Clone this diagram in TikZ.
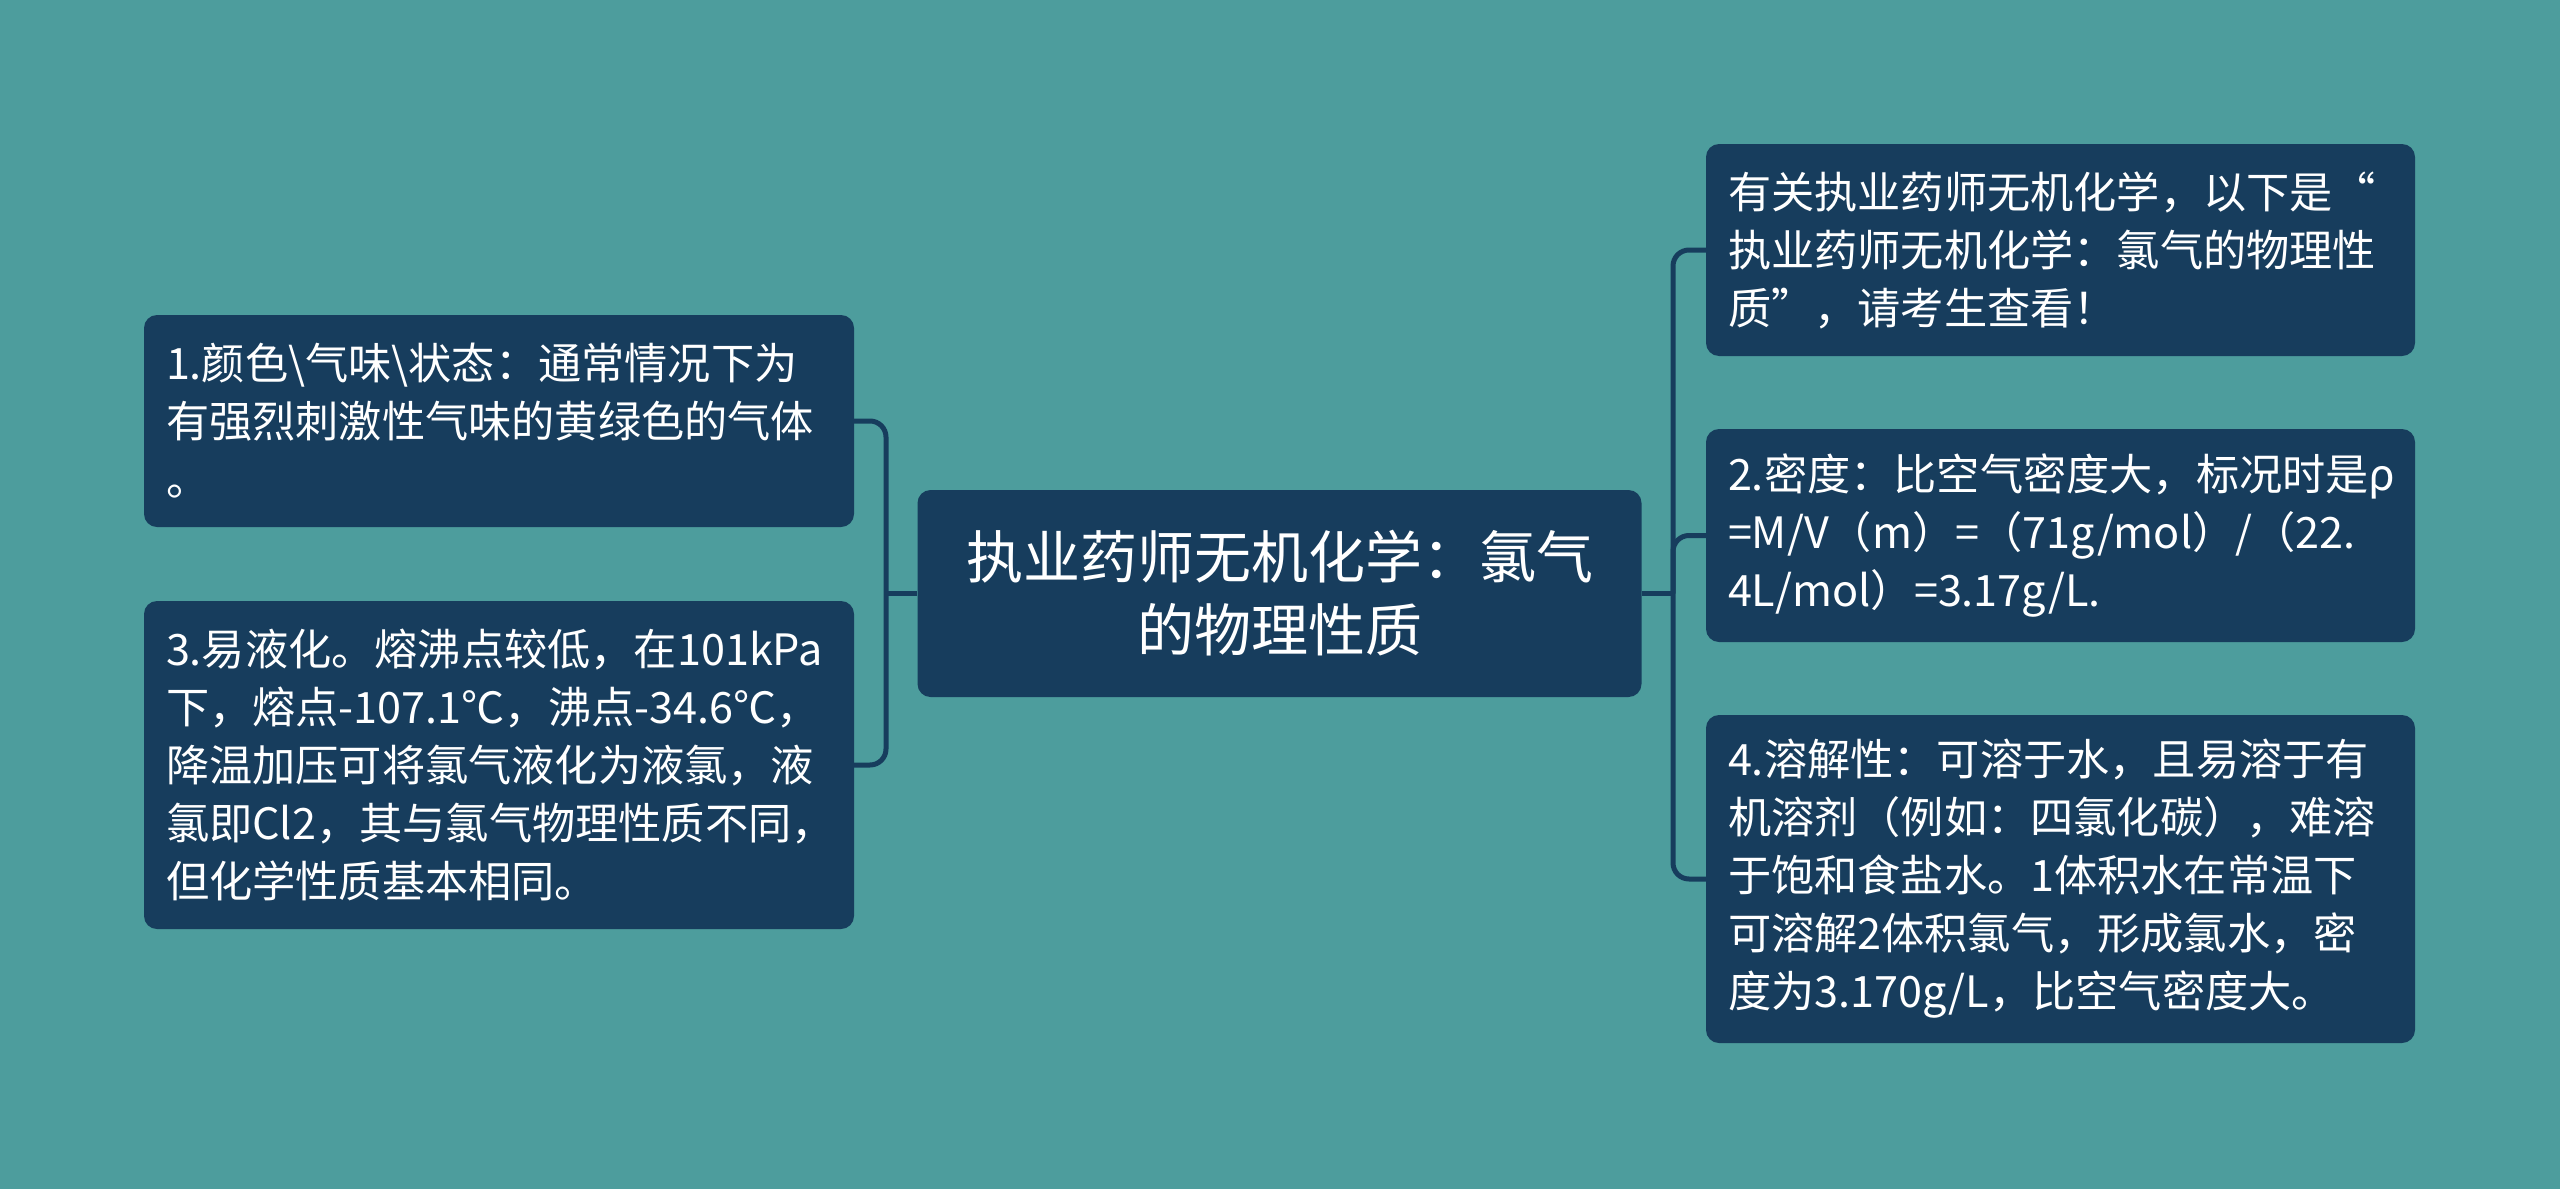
\documentclass[tikz,border=0pt]{standalone}
\usepackage{fontspec}
\setmainfont{Noto Sans CJK SC}
\definecolor{bgc}{HTML}{4D9D9D}
\definecolor{boxc}{HTML}{173D5D}
\definecolor{linec}{HTML}{173D5D}
\begin{document}
\begin{tikzpicture}[x=1pt,y=-1pt,
  box/.style={fill=boxc, rounded corners=13pt, text=white, align=left, inner xsep=22pt, inner ysep=0pt,
    font=\fontsize{43.2}{58}\selectfont},
  conn/.style={draw=linec, line width=5pt, rounded corners=16pt}]
\fill[bgc] (0,0) rectangle (2560,1189);
\useasboundingbox (0,0) rectangle (2560,1189);
\node[box, text width=666pt, minimum width=710pt, minimum height=212pt] (b1) at (499,421)
 {1.颜色\textbackslash 气味\textbackslash 状态：通常情况下为\\有强烈刺激性气味的黄绿色的气体\\。};
\node[box, text width=666pt, minimum width=710pt, minimum height=328pt] (b3) at (499,765)
 {3.易液化。熔沸点较低，在101kPa\\下，熔点-107.1℃，沸点-34.6℃，\\降温加压可将氯气液化为液氯，液\\氯即Cl2，其与氯气物理性质不同，\\但化学性质基本相同。};
\node[box, align=center, text width=680pt, minimum width=723pt, minimum height=207pt,
  font=\fontsize{57}{73}\selectfont] (c) at (1279.5,593.5)
 {执业药师无机化学：氯气\\的物理性质};
\node[box, text width=665pt, minimum width=709pt, minimum height=212pt] (r1) at (2060.5,250)
 {有关执业药师无机化学，以下是“\\执业药师无机化学：氯气的物理性\\质”，请考生查看！};
\node[box, text width=665pt, minimum width=709pt, minimum height=213pt] (r2) at (2060.5,535.5)
 {2.密度：比空气密度大，标况时是ρ\\=M/V（m）=（71g/mol）/（22.\\4L/mol）=3.17g/L.};
\node[box, text width=665pt, minimum width=709pt, minimum height=328pt] (r4) at (2060.5,879)
 {4.溶解性：可溶于水，且易溶于有\\机溶剂（例如：四氯化碳），难溶\\于饱和食盐水。1体积水在常温下\\可溶解2体积氯气，形成氯水，密\\度为3.170g/L，比空气密度大。};
\coordinate (jl) at (886,593.5);
\coordinate (jr) at (1673,593.5);
\draw[conn] (b1.east) -| (jl) |- (b3.east);
\draw[conn] (c.west) -- (jl);
\draw[conn] (r1.west) -| (jr) |- (r4.west);
\draw[conn] (jr) |- (r2.west);
\draw[conn] (c.east) -- (jr);
\end{tikzpicture}
\end{document}
